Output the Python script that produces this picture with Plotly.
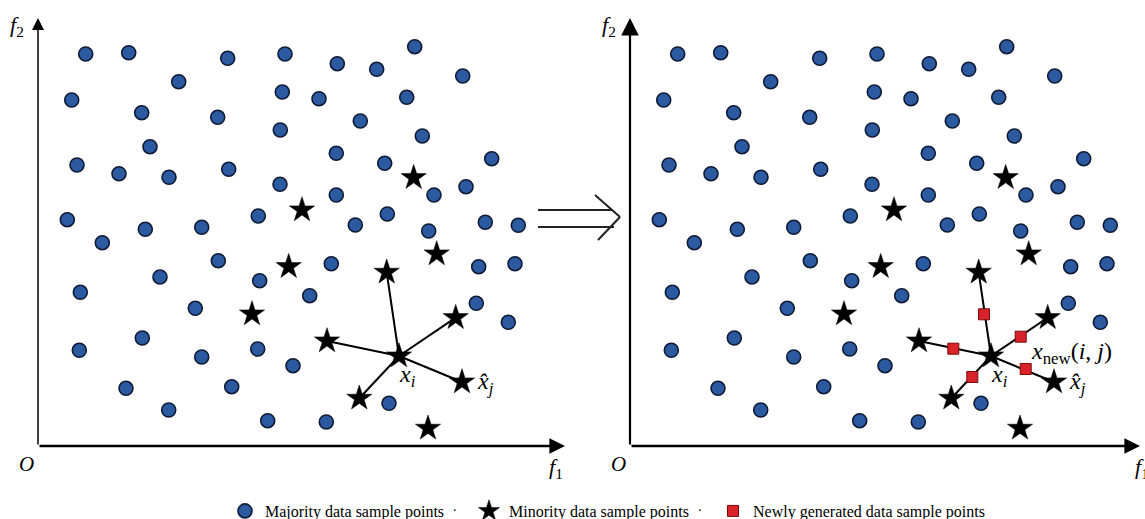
import plotly.graph_objects as go

# ---------------- data (feature space coordinates, origin at O) ----------------
majority_f1 = [47.7, 90.7, 189.7, 247, 299.3, 338.7, 376.7, 424.7, 140.7, 33.7,
               244.3, 281, 368.7, 103.7, 179.7, 242.3, 322.3, 384.3, 112, 298.3,
               346.7, 453.7, 39, 81, 131, 190.7, 242, 298.3, 396, 428,
               29.3, 107.3, 163.7, 220.3, 317.3, 349.3, 390.7, 447.3, 480.3, 64.3,
               180.3, 293.3, 440.7, 477, 122, 221.7, 42.3, 271.7, 157.3, 438.3,
               470.3, 104.3, 41.3, 219.7, 163.7, 255, 88, 193.7, 130.7, 351,
               229.7, 288.3]
majority_f2 = [392, 393.3, 387.7, 392, 382.3, 376.7, 399.3, 370, 364.3, 346,
               354, 347.3, 348.7, 333.3, 328.7, 316, 325, 310, 299.3, 292.7,
               282.7, 287.3, 281, 272.3, 268.7, 276.7, 261.7, 251, 251, 259.3,
               226.3, 216.7, 218.7, 230, 221, 232, 215, 223.7, 220.7, 203.3,
               185.3, 182.3, 179.3, 182.3, 169, 165.3, 153.7, 150.3, 137.7, 142.7,
               123.7, 108, 95.7, 97, 89, 80.3, 57.7, 59.3, 36, 42.7,
               25.3, 24]

minority_f1 = [375.7, 264, 398.7, 250.7, 214, 348.7, 417.7, 289, 361, 424, 321.3, 390]
minority_f2 = [268.3, 236, 192, 179.3, 132, 173.7, 128.3, 105, 90, 64, 47.7, 17.7]
center_index = 8                     # x_i
neighbor_indices = [5, 6, 7, 9, 10]  # k nearest minority neighbours

new_f1 = [354, 390.7, 323.3, 395.7, 342.3]
new_f2 = [131.7, 109.3, 97.3, 77, 69]

legend_names = ["Majority data sample points", "Minority data sample points",
                "Newly generated data sample points"]

W, H = 1145, 519
SERIF = "Liberation Serif"

fig = go.Figure()

cx, cy = minority_f1[center_index], minority_f2[center_index]
link_x, link_y = [], []
for k in neighbor_indices:
    link_x += [cx, minority_f1[k], None]
    link_y += [cy, minority_f2[k], None]

for panel, xa in enumerate(["x", "x2"]):
    show = panel == 1
    fig.add_trace(go.Scatter(x=link_x, y=link_y, mode="lines", xaxis=xa, yaxis="y",
                             line=dict(color="black", width=2), showlegend=False,
                             hoverinfo="skip"))
    fig.add_trace(go.Scatter(x=majority_f1, y=majority_f2, mode="markers", xaxis=xa, yaxis="y",
                             name=legend_names[0], showlegend=show, legendrank=1,
                             marker=dict(symbol="circle", size=14, color="#2c5aa0",
                                         line=dict(color="#0f1a35", width=1.6))))
    fig.add_trace(go.Scatter(x=minority_f1, y=minority_f2, mode="markers", xaxis=xa, yaxis="y",
                             name=legend_names[1], showlegend=show, legendrank=2,
                             marker=dict(symbol="star", size=19, color="black",
                                         line=dict(color="black", width=0.5))))
    if panel == 1:
        fig.add_trace(go.Scatter(x=new_f1, y=new_f2, mode="markers", xaxis=xa, yaxis="y",
                                 name=legend_names[2], showlegend=True, legendrank=3,
                                 legendwidth=260,
                                 marker=dict(symbol="square", size=11, color="#d8232a",
                                             line=dict(color="#7a0a0a", width=1))))

annotations = []
# coordinate axes with arrows
for xa, xtip, yw, xw in [("x", 527, 1.5, 2.6), ("x2", 510, 2.2, 2.6)]:
    annotations.append(dict(xref=xa, yref="y", axref=xa, ayref="y", x=0, y=428, ax=0, ay=0,
                            text="", showarrow=True, arrowhead=2, arrowsize=1.6,
                            arrowwidth=yw, arrowcolor="black"))
    annotations.append(dict(xref=xa, yref="y", axref=xa, ayref="y", x=xtip, y=0, ax=0, ay=0,
                            text="", showarrow=True, arrowhead=2, arrowsize=1.2,
                            arrowwidth=xw, arrowcolor="black"))
    annotations.append(dict(xref=xa, yref="y", x=-21, y=420, text="<i>f</i><sub>2</sub>",
                            showarrow=False, font=dict(family=SERIF, size=22, color="black")))
    annotations.append(dict(xref=xa, yref="y", x=-12, y=-18, text="<i>O</i>",
                            showarrow=False, font=dict(family=SERIF, size=21, color="black")))
    annotations.append(dict(xref=xa, yref="y", x=xtip - 9 if xa == "x" else xtip + 2, y=-22,
                            text="<i>f</i><sub>1</sub>", showarrow=False,
                            font=dict(family=SERIF, size=22, color="black")))
    annotations.append(dict(xref=xa, yref="y", x=369, y=70, text="<i>x<sub>i</sub></i>",
                            showarrow=False, font=dict(family=SERIF, size=24, color="black")))
    annotations.append(dict(xref=xa, yref="y", x=447, y=63, text="<i>x\u0302<sub>j</sub></i>",
                            showarrow=False, font=dict(family=SERIF, size=24, color="black")))
annotations.append(dict(xref="x2", yref="y", x=441, y=93,
                        text="<i>x</i><sub>new</sub>(<i>i</i>, <i>j</i>)",
                        showarrow=False, font=dict(family=SERIF, size=24, color="black")))
# separators in legend row
for px in [455, 700]:
    annotations.append(dict(xref="paper", yref="paper", x=px / W, y=1 - 516 / H, text=".",
                            showarrow=False, font=dict(family=SERIF, size=14, color="black")))


def P(px, py):
    return px / W, 1 - py / H


shapes = []
for (x0, y0, x1, y1) in [(538, 210, 613, 210), (538, 227, 614, 227),
                         (595, 195, 620, 217), (620, 217, 598, 240)]:
    a, b = P(x0, y0)
    c, d = P(x1, y1)
    shapes.append(dict(type="line", xref="paper", yref="paper", x0=a, y0=b, x1=c, y1=d,
                       line=dict(color="#222222", width=2)))

fig.update_layout(
    width=W, height=H, autosize=False,
    margin=dict(l=0, r=0, t=0, b=0, pad=0, autoexpand=False),
    paper_bgcolor="white", plot_bgcolor="white",
    xaxis=dict(domain=[0, 585 / W], range=[-38, 547], visible=False, fixedrange=True),
    xaxis2=dict(domain=[585 / W, 1], range=[-45, 515], visible=False, anchor="y", fixedrange=True),
    yaxis=dict(domain=[0, 1], range=[-73, 446], visible=False, fixedrange=True),
    showlegend=True,
    legend=dict(orientation="h", x=(246 - 21) / W, xanchor="left", y=1 - 511 / H, yanchor="middle",
                font=dict(family=SERIF, size=16, color="black"), bgcolor="rgba(0,0,0,0)",
                entrywidth=199, entrywidthmode="pixels", itemsizing="trace", traceorder="normal"),
    annotations=annotations,
    shapes=shapes,
)

fig.write_html("out.html", config={"displayModeBar": False},
               post_script="document.body.style.margin='0px';document.body.style.overflow='hidden';")
